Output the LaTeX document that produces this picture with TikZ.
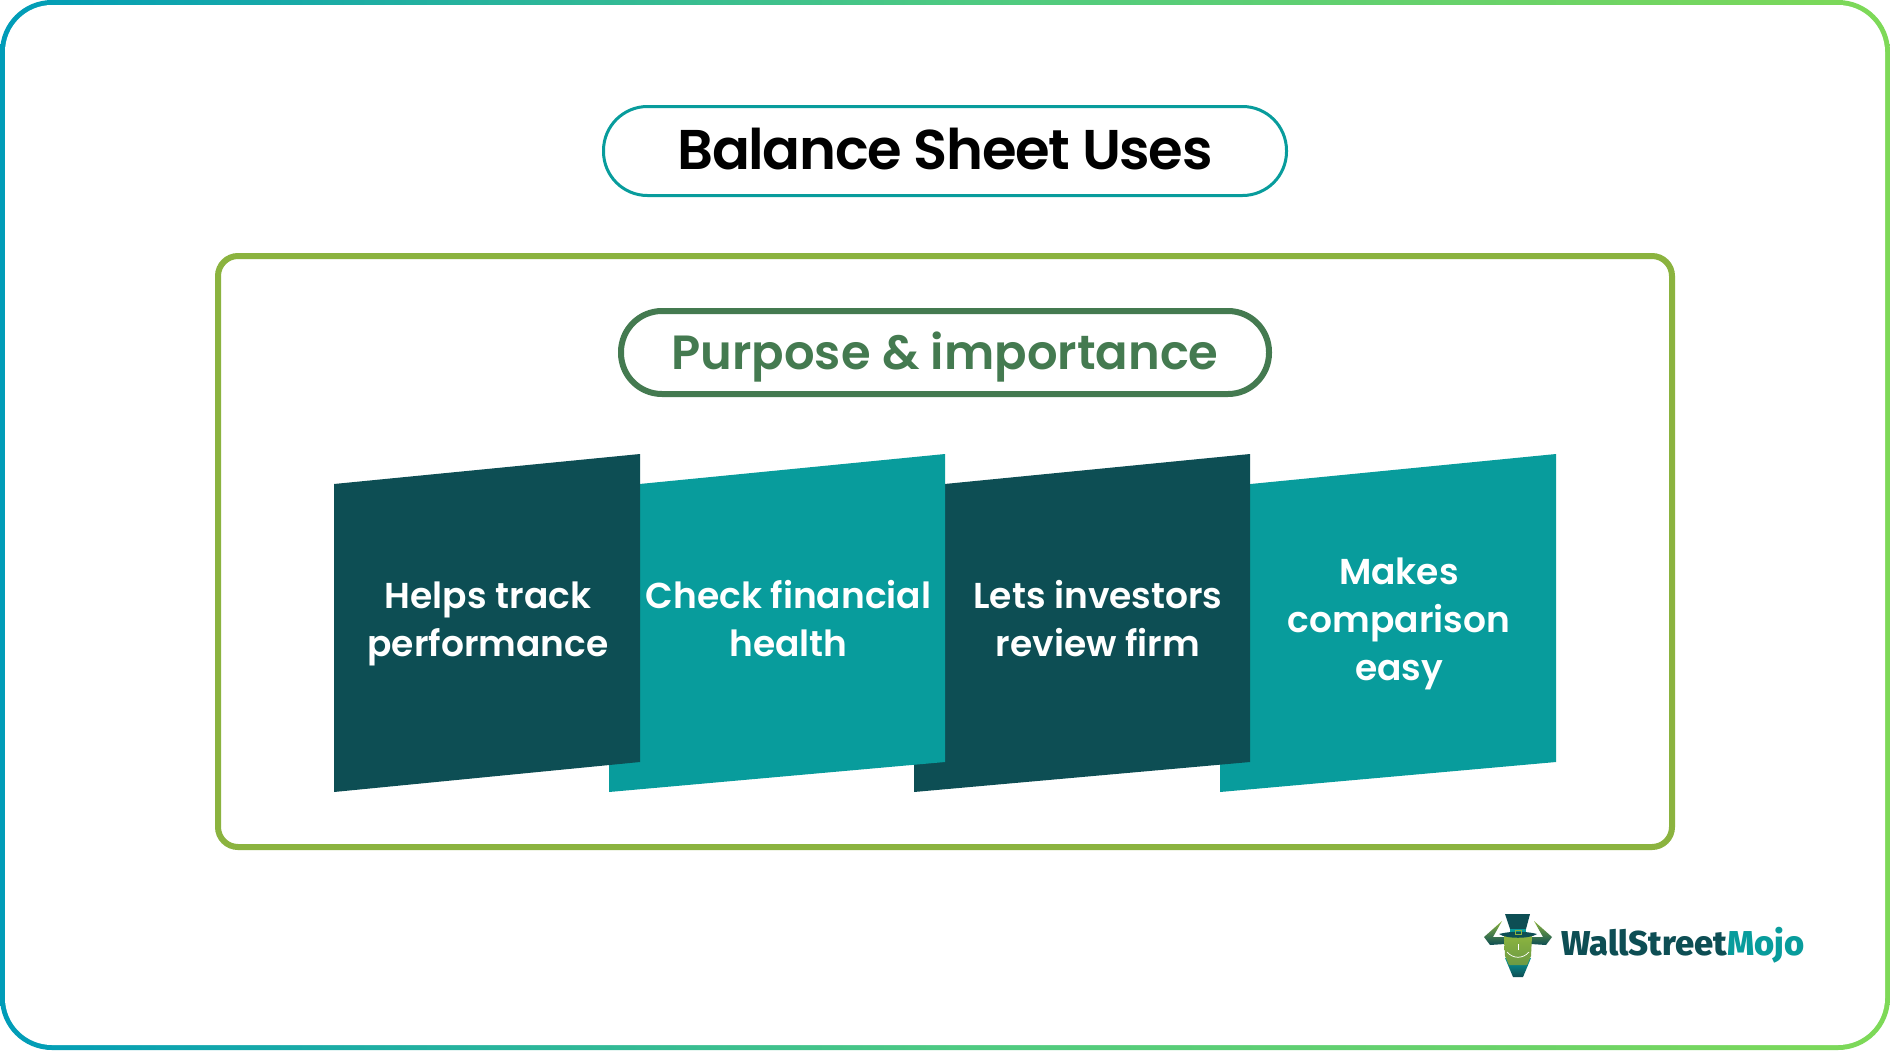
\documentclass[tikz,border=0pt]{standalone}
\usepackage{xcolor}
\usepackage{fontspec}
\setmainfont{Poppins}[UprightFont=* SemiBold,BoldFont=* SemiBold]
\newfontfamily\logofont{Fira Sans}[UprightFont=* ExtraBold]
\usetikzlibrary{positioning}
\definecolor{darkteal}{HTML}{0D4E54}
\definecolor{midteal}{HTML}{089C9C}
\definecolor{leafgreen}{HTML}{8BB33F}
\definecolor{pillgreen}{HTML}{447A50}
\definecolor{frameleft}{HTML}{009CB8}
\definecolor{frameright}{HTML}{7ED957}

\begin{document}
\begin{tikzpicture}[
    x=1pt,
    y=-1pt,
    pill/.style={draw, fill=white},
    slab/.style={font=\fontsize{36}{48}\selectfont, text=white, align=center}]
    % BACKGROUND
    \useasboundingbox (0,0) rectangle (1890,1050);
    \shade[left color=frameleft, right color=frameright, middle color=teal!60!green!70!white, rounded corners=52pt] (0,0) rectangle (1890,1050);
    \fill[white, rounded corners=47pt] (5,5) rectangle (1885,1045);
    % green box
    \draw[leafgreen, line width=6pt, rounded corners=20pt] (218,256) rectangle (1672,847);

    % PILLS
    \node[pill, draw=midteal, line width=3pt, rounded corners=44pt, minimum width=683pt, minimum height=89pt] (title) at (945,151) {};
    \node[font=\fontsize{56}{60}\selectfont\addfontfeature{LetterSpace=-2.5}] (titletext) at (945,149.5) {Balance Sheet Uses};
    \node[pill, draw=pillgreen, line width=6pt, rounded corners=41pt, minimum width=648pt, minimum height=83pt] (purpose) at (945,352.5) {};
    \node[text=pillgreen, font=\fontsize{48}{50}\selectfont] (purposetext) at (945,357) {Purpose \& importance};

    % SLABS
    \fill[midteal] (1220,487) -- (1556,454) -- (1556,762) -- (1220,792) -- cycle;
    \fill[darkteal] (914,487) -- (1250,454) -- (1250,762) -- (914,792) -- cycle;
    \fill[midteal] (609,487) -- (945,454) -- (945,762) -- (609,792) -- cycle;
    \fill[darkteal] (334,484) -- (640,454) -- (640,762) -- (334,792) -- cycle;

    % TEXTS
    \node[slab] (track) at (488,624) {Helps track\\performance};
    \node[slab] (health) at (788.5,619) {Check financial\\health};
    \node[slab] (investors) at (1098,619) {Lets investors\\review firm};
    \node[slab] (compare) at (1399,624) {Makes\\comparison\\easy};

    % LOGO
    % horns
    \shade[top color=leafgreen, bottom color=darkteal] (1502,921) -- (1484,937) -- (1490,945) -- (1505,944) -- (1505,937) -- (1493,937) -- cycle;
    \shade[top color=leafgreen, bottom color=darkteal] (1534,921) -- (1552,937) -- (1546,945) -- (1531,944) -- (1531,937) -- (1543,937) -- cycle;
    % snout
    \shade[top color=midteal, bottom color=darkteal] (1505,958) -- (1531,958) -- (1523,977) -- (1513,977) -- cycle;
    % face
    \shade[top color=leafgreen, bottom color=leafgreen!75!darkteal] (1504,936) -- (1532,936) -- (1531,956) -- (1527,965) -- (1509,965) -- (1505,956) -- cycle;
    \draw[white, line width=0.7pt] (1518,944) -- (1518,950);
    \draw[white, line width=0.7pt] (1507,952) .. controls (1513,959) and (1523,959) .. (1529,952);
    % hat
    \fill[darkteal] (1505,914) -- (1530,914) -- (1526,929) -- (1510,929) -- cycle;
    \fill[midteal] (1510,929) rectangle (1526,934);
    \fill[darkteal] (1499,934) .. controls (1510,931) and (1526,931) .. (1537,934) .. controls (1530,939) and (1506,939) .. (1499,934) -- cycle;
    \draw[leafgreen, line width=1pt] (1515,930) rectangle (1521,934);
    % name
    \node[anchor=west, inner sep=0pt, text=darkteal, font=\logofont\fontsize{34.5}{36}\selectfont] (wall) at (1561,945.5) {WallStreet\textcolor{midteal}{Mojo}};
  \end{tikzpicture}
\end{document}
